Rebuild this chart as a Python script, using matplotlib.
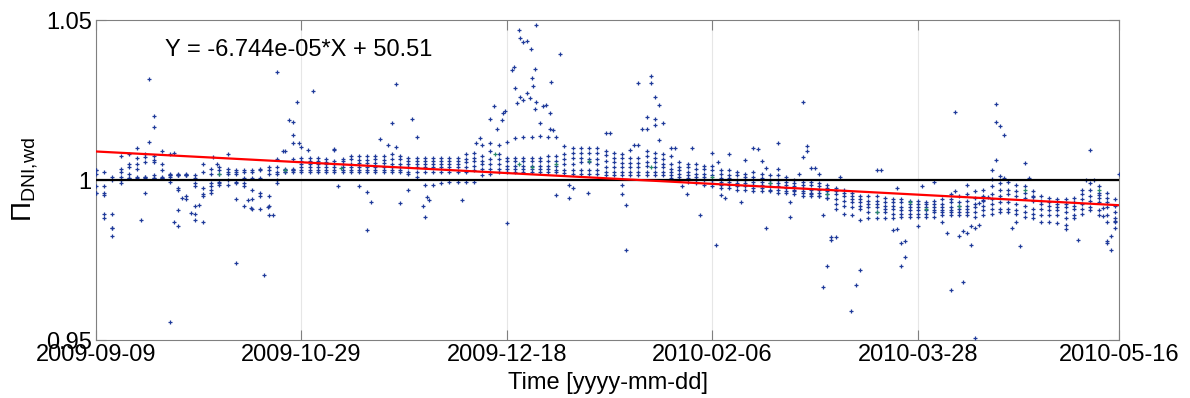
import numpy as np
import matplotlib
matplotlib.use("Agg")
import matplotlib.pyplot as plt
import matplotlib.dates as mdates

plt.rcParams['font.family'] = ['Liberation Sans', 'DejaVu Sans']
plt.rcParams['mathtext.fontset'] = 'custom'
plt.rcParams['mathtext.rm'] = 'Liberation Sans'
plt.rcParams['mathtext.it'] = 'Liberation Sans:italic'

start = np.datetime64('2009-09-09')
end = np.datetime64('2010-05-16')
tick_labels = ['2009-09-09', '2009-10-29', '2009-12-18',
               '2010-02-06', '2010-03-28', '2010-05-16']
equation = 'Y = -6.744e-05*X + 50.51'
fit_slope = -6.744e-05  # per day, from the equation on the chart

# day offsets from start, every second day
band_days = np.arange(0, 249, 2)

# band values, deviation from 1 in thousandths
band_a = [3, 2.5, 1, 7.5, 8, 10, 8, 7.5, 9, 8,
          2, 2, 1.5, 5, 3.5, 4, 8, 3, 3, 3,
          3.5, 4, 6.5, 9, 11.5, 7, 7, 7, 6.5, 9.5,
          6.5, 7.5, 7.5, 7.5, 7.5, 7.5, 8, 7.5, 7, 7,
          7, 7, 7, 7, 7, 8, 8.5, 11, 11.5, 11,
          12, 13, 13.3, 13.5, 13.7, 13.5, 13.3, 10.5, 10, 10,
          10, 10, 9, 8.5, 8, 9.5, 11, 9, 8.5, 8,
          7.5, 5.5, 5, 5, 4.5, 4.5, 3, 3, 2.5, 2,
          2.5, 2, 1.5, 1.5, 1, 0, -0.5, -0.5, -1, -1.5,
          -2.5, -3, -4, -5, -5, -5, -5.5, -6, -6, -6.5,
          -6.5, -7, -6.5, -6, -6, -5, -4.5, -3.5, -3, -2,
          -1, -0.5, -1.5, -2, -3.5, -5, -5.5, -6, -6, -5.5,
          -3, -1, -2, -4, -6]
band_b = [2, -4, 0, 2.5, 5, 6.8, 7.3, 6.3, 3, 1.5,
          1.5, 1.5, 0.5, 2.5, 2, 3, 3.5, 2.5, 2.5, 2.5,
          3, 3, 4, 3.5, 6.5, 6, 6, 6, 5.5, 6,
          6, 6.5, 6.3, 6.3, 6.5, 6.3, 6.5, 6.5, 6, 6,
          6, 6, 6, 6, 6, 6.5, 7, 7.5, 9, 8,
          7, 7, 7, 7, 7, 7.5, 7.5, 8, 8.5, 8.5,
          8.5, 8.5, 7.8, 7, 7, 7, 7, 7.5, 7, 6.5,
          5, 4, 4, 3.5, 3.5, 3, 2, 1.5, 1.5, 1,
          1, 0.5, 0, 0, -0.5, -1, -1.5, -1.5, -2, -2.5,
          -3.5, -4, -5, -6, -6.5, -6.5, -7, -7, -7, -7.5,
          -7.5, -7.5, -7.5, -7.5, -7, -7, -6.5, -5.5, -5, -4.5,
          -3, -3, -3.5, -4, -5, -6.5, -7, -7.5, -7.5, -7,
          -4.5, -3, -4, -5.5, -8]
band_c = [-4, -4.7, -10.6, 3.5, 4, 5, 0.5, 0.5, 0.5, -0.5,
          -3, -6, -10.5, -4.5, -1, -1, -1.5, -0.5, -1, -3,
          -4, -5, 2.5, 3, 3.5, 5, 5, 5, 5, 5,
          5, 5, 5.2, 5.2, 5.2, 5.2, 5, 5, 5, 5,
          5, 5, 5, 5, 5, 5.5, 6, 6, 6.5, 6.5,
          6, 6, 6, 6, 6, 6, 6, 6.5, 7, 7,
          6.5, 6.5, 6, 5.5, 5.2, 5.2, 5.2, 5.5, 5.5, 5,
          3.5, 3, 2.5, 2, 2, 1.5, 0.5, 0.5, 0, 0,
          -0.5, -0.5, -1, -1, -1.5, -2, -2.5, -3, -3, -3.5,
          -4.5, -5, -6, -7, -7.5, -7.5, -8, -8, -8.5, -8.5,
          -8.5, -8.5, -8.5, -8.5, -8.5, -8, -8, -7.5, -6.5, -6,
          -5, -4.5, -5, -5.5, -6.5, -7.5, -8, -8.5, -8.5, -8,
          -6, -5, -5.5, -7, -10]
band_d = [3, -2, -15, 1, 2, 3.5, 5.5, 5.5, 5, 2,
          -2.5, -5, -8, -13, -2, 2, 2.5, 2, 0.5, 0.5,
          0.5, 2, 2, 2.5, 3, 4, 4.2, 4.2, 4, 4,
          4.2, 4.2, 4.2, 4.2, 4, 4, 4, 4, 4, 4,
          4, 4, 4, 4, 4, 4, 4.5, 5, 5, 5,
          4.5, 4.5, 4.5, 4.5, 4.5, 4.5, 4.5, 5, 5, 5.5,
          5.5, 5, 4.2, 4.2, 4.2, 4.2, 4.2, 4.5, 4.2, 4,
          2.5, 2, 1.5, 1, 1, 0, -0.5, -0.5, -1, -1,
          -1.5, -1.5, -2, -2, -2.5, -3, -3.5, -4, -4, -4.5,
          -6, -6.5, -7, -8, -8.5, -8.5, -9, -9, -9.5, -9.5,
          -9.5, -9.5, -9.5, -9.5, -9.5, -9, -9, -8.5, -8, -7.5,
          -7, -7, -7.5, -8, -9, -9, -9.5, -9.5, -10, -9,
          -7.5, -6.5, -7, -8.5, -12]
band_e = [-2, -10.6, -17.4, 0, 0.5, 1, 1, 1.5, 1, 1.5,
          1.5, 1.5, -1, -2.5, -3, -0.5, 0, -1, -2, -6,
          -5, -8, -1, 3, 3, 3, 3.1, 3.1, 3, 3,
          3, 3, 3, 3, 3, 3, 3, 3, 2.5, 2.5,
          2.5, 2.5, 2.5, 2.5, 2.5, 2.5, 3, 3.5, 3.5, 3.5,
          3.5, 3.5, 3.5, 3.5, 3.5, 3.5, 3, 3, 3, 3,
          3, 3, 2.6, 2.6, 2.6, 2.6, 2.6, 2.6, 2.6, 2.5,
          1.5, 1, 0.5, 0, 0, -1, -1.5, -1.5, -2, -2,
          -2.5, -2.5, -3, -3, -3.5, -3.5, -4, -4.5, -5, -5.5,
          -7.5, -8, -8.5, -9, -10, -10, -10, -10.5, -10.5, -10.5,
          -10.5, -10.5, -10, -10, -10, -10, -10, -10, -9.5, -9,
          -9, -9, -9.5, -10, -10.5, -11, -11, -11, -12, -11,
          -9, -8.5, -9.5, -11, -13]
band_f = [-4, -12, -15, -1, 0.5, 0.5, 1, 0.5, 0.5, 1,
          1.5, 1.5, -2, -5, -4, -1.5, 2, -6, -8, -9,
          -9, -11, 0, 2.5, 2.5, 2.5, 2.5, 2.5, 2.5, 2.5,
          2.5, 2.5, 2.5, 2.5, 2.5, 2.5, 2.5, 2.5, 2, 1,
          -1.5, -1.5, -1, -0.5, -0.5, -0.5, -0.5, 1.5, 2, 2.5,
          2.5, 2.5, 2.5, 2.5, 2.5, 2.5, 2.5, 2.2, 2, 2,
          2, 1.8, 1.6, 1.6, 1.6, 1.6, 1.6, 1.5, 1.6, 1.5,
          0.5, 0, -0.5, -1, -1.5, -2, -2.5, -2.5, -3, -3,
          -3.5, -3.5, -3.5, -4, -4, -4.5, -5, -5, -5, -5.5,
          -9, -10.5, -11, -12.5, -12, -12, -12, -12, -11.5, -11.5,
          -11.5, -11.5, -11.5, -11, -11, -11, -11, -11.5, -11, -10.5,
          -10, -10, -10.5, -11.5, -12, -13, -13, -13.5, -14, -12,
          -10.5, -9.5, -11, -13, -15]

# scattered points (day offset, deviation in thousandths)
outlier_days = [13, 14, 14, 13, 11, 12, 18, 19, 19, 20, 20, 21, 23, 24, 25, 29.5, 28.5,
                34, 37, 37.7, 41, 41.8, 43, 44, 45.5, 46.9, 48, 48, 48.9, 49.5, 50, 51.5,
                52.8, 58, 59, 64, 66, 67, 66, 69, 71, 72, 73, 73, 74, 77, 78, 76, 79.5,
                80, 80.5, 81, 89, 92.5, 93.5, 95.8, 96.8, 97.5, 98.7, 99.1, 99.5, 100,
                101.2, 101.8, 102, 103, 103.3, 104, 104.8, 105.8, 107, 106.8, 106, 106.4,
                104.8, 104, 103.2, 102.4, 105.6, 107.2, 106.8, 108.8, 109.6, 110.5, 110.8,
                112.9, 108, 110.5, 111.3, 112, 115, 115, 116, 119.8,
                124, 125, 127.9, 127.9, 129, 129, 131, 132, 133, 134, 134, 135, 135, 136,
                136, 136, 137, 137, 138, 140, 141, 145, 142.5, 143.9, 147, 150, 151,
                151.5, 152, 153, 154, 157, 158, 160, 161, 162, 163, 163, 166, 166, 169,
                169, 172, 173, 173, 172, 171, 174, 175, 176, 177, 177, 178, 179, 179, 180,
                181, 183.7, 185, 186, 190, 191, 194, 195, 195, 196, 196, 197, 197, 200,
                201, 204, 206, 207, 208, 209, 208, 209, 210, 211, 211, 212, 212, 213, 213,
                214, 214, 215, 215, 216, 217, 218, 218, 219, 219, 219, 220, 221, 220, 221,
                223, 224, 225, 226, 227, 228, 236, 239, 241, 242, 243, 244, 245, 245, 246,
                246, 247, 247, 248, 249]
outlier_vals = [31.5, 20, 16.7, 12, -12.5, -4, -44.5, 8.3, -13, -9.4, -14.3, -5.5, -10.4,
                -12.5, -7.8, 5, 7.3, -26, -6.3, -8.9, -29.7, -8.3, -11, 33.6, 9, 18.75,
                18.1, 14, 24.5, 11.5, 10.4, 9.4, 27.8, 9.6, -2, -2, -3.6, -7, -15.6, 12.8,
                11, 17.7, 30, 10.4, -7.3, 19, 13.5, -3.1, -8, -11.5, -5.2, -6.3, -6.3,
                11.5, 13, 19, 23, 16, 18.75, 20.8, 21.5, -13.5,
                34.4, 35.4, 28.6, 46.9, 44.3, 43, 43.5, 41, 48.4, 34.6, 31.8, 29.4, 27.1,
                25, 26, 24, 25.5, 24.5, 22.1, 23, 23.4, 20.8, 30.6, 39.4, 17.7, 16, 15.6,
                -4.7, -1.6, -5.7, -2.6, -4.2,
                14.6, 14.6, -1.6, -4.5, -7.8, -21.9, 11, 30.4, 15.8, 15.8, 19.8, 32.5, 30.4,
                25.8, 19.1, 17.2, 23.4, 12.5, 17.9, 9.9, 9.9, 9.9, -1.9, -4.4, -11, 8.5,
                -20.3, 5.7, -4.7, -5.7, 8.1, -6.8, 6.25, 9.9, 9.6, 6, 3.6, -15, 11.7, 3.3,
                -7, -11.7, 24.5, 9.2, 10.6, 7.3, 2, 3.9, 3.6, 1.9, -11, -33.5, -26.9,
                -17.7, -18.75, -17.7, 1, -41, -32.8, -28, 3.1, 3.1, -15.6, -2.6, -15.2,
                -19.6, -26.9, -19, -24.2, -14.5, -1.9, -0.5, -13, -16.7, -34.4, 21.4, -4.4,
                -3.4, -17.5, -31.8, -16, -1.6, -16.7, -20.3, -14.4, -49.5, -15, -14, -7.3,
                -6.3, -5.2, 3.1, 0.3, 6.25, 23.75, 18.2, 16.9, 14.2, 1.25, 0.5, -15, -13.2,
                -20.5, 5.2, 0.5, -5.2, -15.4, -18.75, 0, 9.4, 0, -4.7, -8.8, -11.4, -19,
                -19.6, -22, -17.4, -12.8, 1.9]

# second series, drawn in green
green_days = [30, 46, 59.6, 97, 103, 106, 112, 120, 135, 150, 164, 178, 190, 198, 202,
              210, 226, 244]
green_vals = [2, 3, 3.6, 8, 5, 4, 5, 6, 4, 1, -1, -4.5, -9.9, -7, -9, -8, -3, -3]

blue = '#1f3a9a'
green = '#2a8a6a'

t0 = mdates.date2num(start.astype('datetime64[D]').item())
bands = [band_a, band_b, band_c, band_d, band_e, band_f]
x_all = np.concatenate([band_days] * len(bands) + [np.array(outlier_days, float)])
y_all = 1 + np.concatenate([np.array(b, float) for b in bands] + [np.array(outlier_vals, float)]) / 1000
x_num = t0 + x_all
gx = t0 + np.array(green_days, float)
gy = 1 + np.array(green_vals, float) / 1000

fig = plt.figure(figsize=(11.9, 3.98), dpi=100)
ax = fig.add_axes([0.0807, 0.1457, 0.8597, 0.804])

ax.plot(x_num, y_all, linestyle='none', marker='+', ms=2.8, mew=0.9, color=blue, zorder=3)
ax.plot(gx, gy, linestyle='none', marker='+', ms=2.8, mew=0.9, color=green, zorder=3)

xlim = (t0, mdates.date2num(end.astype('datetime64[D]').item()))
ax.axhline(1.0, color='black', lw=1.6, zorder=4)

# trend line: slope from the equation, intercept by least squares on the points
intercept = np.mean(y_all - fit_slope * x_num)
xl = np.array(xlim)
ax.plot(xl, intercept + fit_slope * xl, color='red', lw=1.6, zorder=5)

ticks = [mdates.date2num(np.datetime64(s).astype('datetime64[D]').item()) for s in tick_labels]
ax.set_xticks(ticks)
ax.set_xticklabels(tick_labels)
ax.set_xlim(xlim)
ax.set_ylim(0.95, 1.05)
ax.set_yticks([0.95, 1.0, 1.05])
ax.set_yticklabels(['0.95', '1', '1.05'])
ax.xaxis.grid(True, color='#e6e6e6', lw=0.8)
ax.set_axisbelow(True)

ax.tick_params(direction='in', length=7, width=0.8, color='#808080',
               labelsize=17, top=True, right=True, pad=3)
for sp in ax.spines.values():
    sp.set_color('#808080')
    sp.set_linewidth(0.8)

ax.set_xlabel('Time [yyyy-mm-dd]', fontsize=17, labelpad=4)
ax.set_ylabel(r'$\Pi_{\mathrm{DNI{,}wd}}$', fontsize=20, labelpad=4)
ax.text(0.067, 0.906, equation, transform=ax.transAxes, fontsize=17, va='center')

fig.savefig('out.png', dpi=100)
